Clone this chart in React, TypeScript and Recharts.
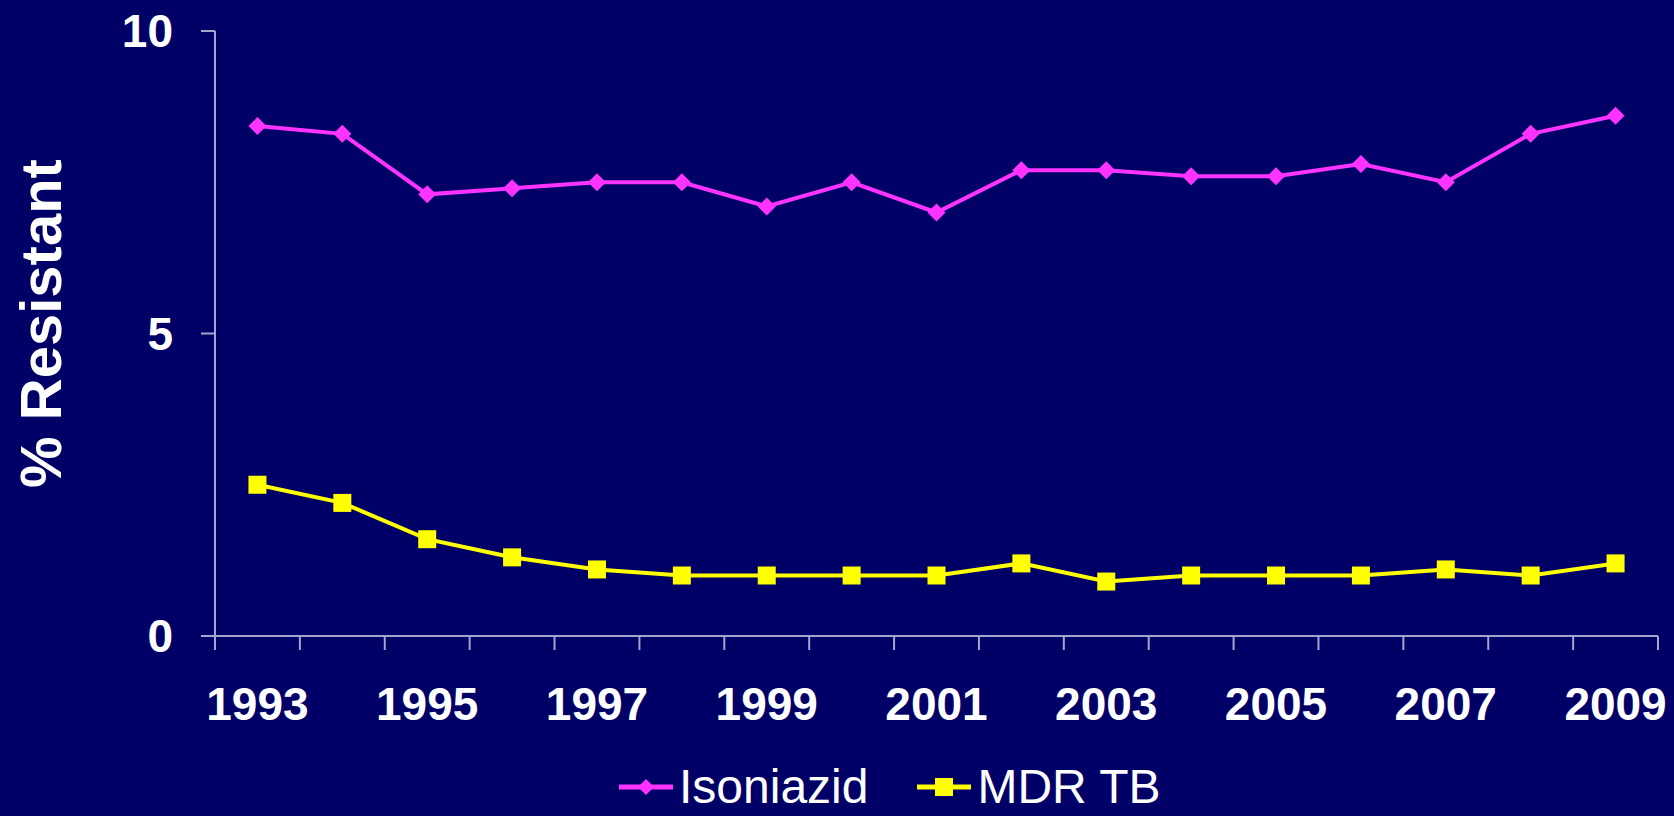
import { LineChart, Line, XAxis, YAxis, Legend } from 'recharts'

const YEARS = [1993, 1994, 1995, 1996, 1997, 1998, 1999, 2000, 2001, 2002, 2003, 2004, 2005, 2006, 2007, 2008, 2009]
const ISONIAZID = [8.43, 8.3, 7.3, 7.4, 7.5, 7.5, 7.1, 7.5, 7.0, 7.7, 7.7, 7.6, 7.6, 7.8, 7.5, 8.3, 8.6]
const MDR_TB = [2.5, 2.2, 1.6, 1.3, 1.1, 1.0, 1.0, 1.0, 1.0, 1.2, 0.9, 1.0, 1.0, 1.0, 1.1, 1.0, 1.2]
const Y_TICKS = [0, 5, 10]
const LABEL_YEARS = [1993, 1995, 1997, 1999, 2001, 2003, 2005, 2007, 2009]
// tick marks sit between the years, like the original category axis
const BOUNDARIES = [
  1992.5, 1993.5, 1994.5, 1995.5, 1996.5, 1997.5, 1998.5, 1999.5, 2000.5,
  2001.5, 2002.5, 2003.5, 2004.5, 2005.5, 2006.5, 2007.5, 2008.5, 2009.5
]

const BG = '#000066'
const AXIS = '#a4a4cc'
const PINK = '#ff33ff'
const YELLOW = '#ffff00'
const FONT = '"Liberation Sans", Arial, sans-serif'

const data = YEARS.map((year, i) => ({ year, isoniazid: ISONIAZID[i], mdr: MDR_TB[i] }))

function DiamondDot(props: any) {
  const { cx, cy, index } = props
  if (cx == null || cy == null) return <g key={index} />
  const r = 9
  return (
    <polygon
      key={index}
      points={`${cx},${cy - r} ${cx + r},${cy} ${cx},${cy + r} ${cx - r},${cy}`}
      fill={PINK}
    />
  )
}

function SquareDot(props: any) {
  const { cx, cy, index } = props
  if (cx == null || cy == null) return <g key={index} />
  const s = 18
  return <rect key={index} x={cx - s / 2} y={cy - s / 2} width={s} height={s} fill={YELLOW} />
}

function LegendBox() {
  const item = (label: string, color: string, marker: 'diamond' | 'square', gapAfter: number) => (
    <div style={{ display: 'flex', alignItems: 'center', marginRight: gapAfter }}>
      <svg width={54} height={20} style={{ marginRight: 6 }}>
        <line x1={0} y1={10} x2={54} y2={10} stroke={color} strokeWidth={5} />
        {marker === 'diamond' ? (
          <polygon points="27,2 35,10 27,18 19,10" fill={color} />
        ) : (
          <rect x={18} y={1} width={18} height={18} fill={color} />
        )}
      </svg>
      <span style={{ color: '#fff', fontSize: 48, fontFamily: FONT, lineHeight: '42px' }}>{label}</span>
    </div>
  )
  return (
    <div
      style={{
        display: 'flex',
        alignItems: 'center',
        boxSizing: 'border-box',
        height: 56,
        paddingLeft: 619,
        paddingTop: 6,
        paddingBottom: 8
      }}
    >
      {item('Isoniazid', PINK, 'diamond', 49)}
      {item('MDR TB', YELLOW, 'square', 0)}
    </div>
  )
}

function YLabel(props: any) {
  const vb = props.viewBox
  const x = vb.x + 40
  const y = vb.y + vb.height / 2 - 10
  return (
    <text
      x={x}
      y={y}
      transform={`rotate(-90, ${x}, ${y})`}
      textAnchor="middle"
      dominantBaseline="central"
      fill="#fff"
      fontSize={58}
      fontWeight="bold"
      fontFamily={FONT}
    >
      % Resistant
    </text>
  )
}

function App(): JSX.Element {
  return (
    <div style={{ position: 'absolute', top: 0, left: 0, width: 1674, height: 816, background: BG }}>
      <LineChart width={1674} height={816} data={data} margin={{ top: 31, right: 16, left: 0, bottom: 0 }}>
        <XAxis
          xAxisId="grid"
          type="number"
          dataKey="year"
          domain={[1992.5, 2009.5]}
          ticks={BOUNDARIES}
          interval={0}
          height={30}
          tickSize={14}
          stroke={AXIS}
          strokeWidth={2}
          tick={(p: any) => <g key={p.index} />}
        />
        <XAxis
          xAxisId="labels"
          type="number"
          dataKey="year"
          domain={[1992.5, 2009.5]}
          ticks={LABEL_YEARS}
          interval={0}
          height={94}
          axisLine={false}
          tickLine={false}
          tickSize={0}
          tickMargin={21}
          tick={{ fill: '#fff', fontSize: 46, fontWeight: 'bold', fontFamily: FONT }}
        />
        <YAxis
          width={215}
          domain={[0, 10]}
          ticks={Y_TICKS}
          interval={0}
          tickSize={14}
          tickMargin={28}
          stroke={AXIS}
          strokeWidth={2}
          tick={{ fill: '#fff', fontSize: 46, fontWeight: 'bold', fontFamily: FONT }}
          label={<YLabel />}
        />
        <Legend verticalAlign="bottom" content={() => <LegendBox />} />
        <Line
          xAxisId="grid"
          dataKey="isoniazid"
          stroke={PINK}
          strokeWidth={4}
          dot={DiamondDot}
          activeDot={false}
          isAnimationActive={false}
        />
        <Line
          xAxisId="grid"
          dataKey="mdr"
          stroke={YELLOW}
          strokeWidth={4}
          dot={SquareDot}
          activeDot={false}
          isAnimationActive={false}
        />
      </LineChart>
    </div>
  )
}

export default App
